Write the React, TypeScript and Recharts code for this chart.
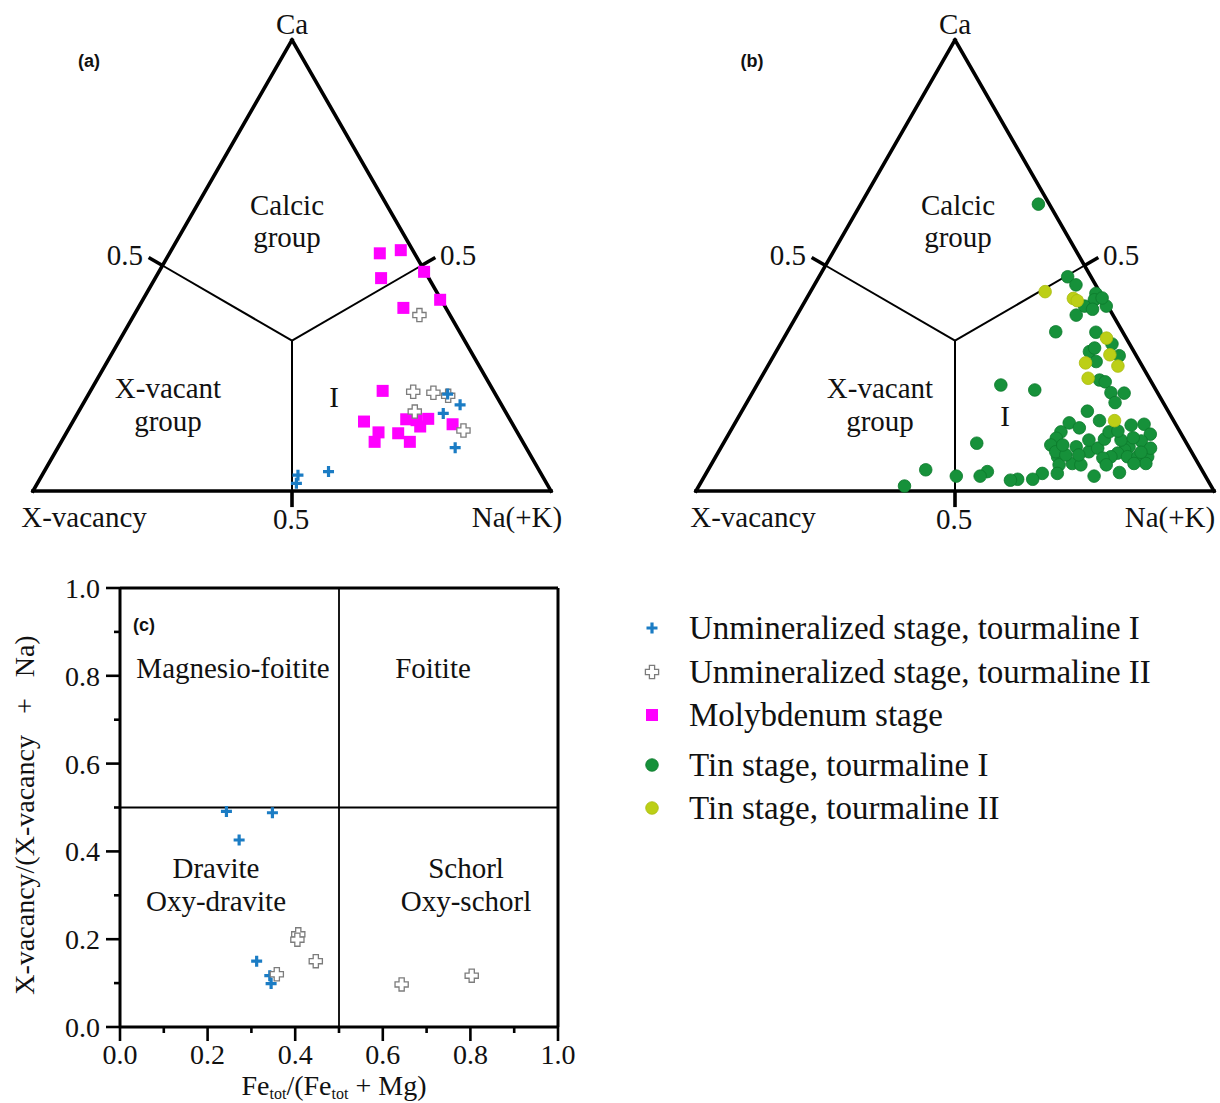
import React from "react";
import { ScatterChart, Scatter, XAxis, YAxis, ReferenceLine } from "recharts";

const SERIF = "'Liberation Serif', 'Times New Roman', Times, serif";
const SANS = "'Liberation Sans', Arial, Helvetica, sans-serif";

const BLUE = "#1b7cc4";
const GREY = "#7c7c7c";
const MAGENTA = "#ff00ff";
const GREEN = "#16913a";
const GREEN_EDGE = "#0d7a2c";
const LIME = "#bccf16";

// ternary compositions as [Ca, Na(+K)]; X-vacancy is the remainder
const unminITern = [
  [0.215, 0.693], [0.191, 0.729], [0.172, 0.706], [0.096, 0.767],
  [0.043, 0.549], [0.035, 0.494], [0.017, 0.5],
];
const unminIITern = [
  [0.39, 0.551], [0.22, 0.624], [0.218, 0.664], [0.211, 0.696],
  [0.176, 0.649], [0.134, 0.764],
];
const molyTern = [
  [0.527, 0.406], [0.534, 0.443], [0.486, 0.512], [0.472, 0.436],
  [0.424, 0.574], [0.406, 0.512], [0.222, 0.564], [0.154, 0.562],
  [0.13, 0.602], [0.109, 0.605], [0.128, 0.641], [0.109, 0.673],
  [0.159, 0.641], [0.157, 0.662], [0.16, 0.683], [0.143, 0.676],
  [0.148, 0.736],
];
const tinITern = [
  [0.636, 0.343], [0.475, 0.48], [0.457, 0.505], [0.438, 0.553], [0.424, 0.557],
  [0.41, 0.545], [0.403, 0.564], [0.41, 0.587], [0.39, 0.539], [0.353, 0.518],
  [0.352, 0.596], [0.326, 0.64], [0.309, 0.605], [0.287, 0.629], [0.3, 0.667],
  [0.246, 0.656], [0.242, 0.669], [0.218, 0.692], [0.217, 0.718], [0.196, 0.711],
  [0.235, 0.471], [0.224, 0.542], [0.177, 0.667], [0.156, 0.701], [0.151, 0.645],
  [0.14, 0.67], [0.131, 0.639], [0.117, 0.637], [0.102, 0.634], [0.098, 0.685],
  [0.087, 0.715], [0.095, 0.728], [0.115, 0.731], [0.131, 0.732], [0.146, 0.767],
  [0.148, 0.791], [0.126, 0.814], [0.111, 0.804], [0.098, 0.787], [0.091, 0.782],
  [0.084, 0.772], [0.076, 0.763], [0.073, 0.749], [0.076, 0.795], [0.076, 0.815],
  [0.076, 0.834], [0.061, 0.838], [0.061, 0.815], [0.076, 0.66], [0.058, 0.672],
  [0.061, 0.696], [0.058, 0.714], [0.039, 0.678], [0.041, 0.797], [0.033, 0.752],
  [0.039, 0.649], [0.026, 0.637], [0.026, 0.608], [0.024, 0.595], [0.043, 0.541],
  [0.033, 0.532], [0.106, 0.489], [0.011, 0.397], [0.047, 0.42], [0.033, 0.486],
  [0.087, 0.651], [0.113, 0.764], [0.118, 0.785], [0.095, 0.83], [0.086, 0.816],
  [0.08, 0.674], [0.08, 0.699], [0.113, 0.702], [0.133, 0.748], [0.102, 0.657],
  [0.058, 0.763], [0.317, 0.611], [0.428, 0.57],
];
const tinIITern = [
  [0.442, 0.453], [0.427, 0.515], [0.422, 0.525], [0.339, 0.623], [0.302, 0.648],
  [0.284, 0.61], [0.277, 0.676], [0.25, 0.632], [0.156, 0.73],
];

// Fe_tot/(Fe_tot + Mg) against X-vacancy/(X-vacancy + Na)
const unminIFe = [
  [0.243, 0.491], [0.348, 0.488], [0.272, 0.426],
  [0.312, 0.15], [0.342, 0.117], [0.345, 0.099],
];
const unminIIFe = [
  [0.407, 0.211], [0.405, 0.199], [0.447, 0.15],
  [0.358, 0.12], [0.643, 0.097], [0.803, 0.117],
];

const axisTicks = [0, 0.1, 0.2, 0.3, 0.4, 0.5, 0.6, 0.7, 0.8, 0.9, 1.0];

const legendNames = [
  "Unmineralized stage, tourmaline I",
  "Unmineralized stage, tourmaline II",
  "Molybdenum stage",
  "Tin stage, tourmaline I",
  "Tin stage, tourmaline II",
];

// Ca at the apex, X-vacancy bottom left, Na(+K) bottom right
const tern = (ca: number, na: number) => ({ x: na + ca / 2, y: ca });
const toTernXY = (rows: number[][]) => rows.map(([ca, na]) => tern(ca, na));
const toXY = (rows: number[][]) => rows.map(([x, y]) => ({ x, y }));

// marker shapes
const bluePlus = (p: any) => {
  const { cx, cy } = p;
  const s = 5.5;
  return (
    <path
      d={`M${cx - s},${cy}H${cx + s}M${cx},${cy - s}V${cy + s}`}
      stroke={BLUE}
      strokeWidth={3.2}
      fill="none"
    />
  );
};
const openPlus = (p: any) => {
  const { cx, cy } = p;
  const a = 2.6;
  const b = 6.6;
  return (
    <path
      d={`M${cx - a},${cy - b}H${cx + a}V${cy - a}H${cx + b}V${cy + a}H${cx + a}V${cy + b}H${cx - a}V${cy + a}H${cx - b}V${cy - a}H${cx - a}Z`}
      stroke={GREY}
      strokeWidth={1.3}
      fill="#fff"
    />
  );
};
const square = (p: any) => (
  <rect x={p.cx - 6} y={p.cy - 6} width={12} height={12} fill={MAGENTA} />
);
const greenDot = (p: any) => (
  <circle cx={p.cx} cy={p.cy} r={6.3} fill={GREEN} stroke={GREEN_EDGE} strokeWidth={0.8} />
);
const limeDot = (p: any) => (
  <circle cx={p.cx} cy={p.cy} r={6.3} fill={LIME} stroke="#a9bb10" strokeWidth={0.8} />
);
const legendShapes = [bluePlus, openPlus, square, greenDot, limeDot];

// triangle frame, field boundaries and the 0.5 ticks
const apexes = [tern(0, 0), tern(1, 0), tern(0, 1)];
const centre = tern(1 / 3, 1 / 3);
const mids = [tern(0.5, 0), tern(0.5, 0.5), tern(0, 0.5)];
const tickEnd = (m: { x: number; y: number }) => ({
  x: m.x + (m.x - centre.x) * 0.107,
  y: m.y + (m.y - centre.y) * 0.107,
});

const TRI_H = 545;
const TRI_M = { top: 40, left: 33, bottom: 54 };

type TernSeries = { name: string; rows: number[][]; shape: any };
type TernLabels = {
  xvacX: number;
  naX: number;
  groupX: number;
  markX: number;
  markY: number;
  calcicX: number;
};

function ternaryPanel(
  key: string,
  left: number,
  width: number,
  tag: string,
  series: TernSeries[],
  lab: TernLabels
) {
  const txt = { fontFamily: SERIF, fontSize: 29, fill: "#111" };
  return (
    <div key={key} style={{ position: "absolute", left, top: 0 }}>
      <ScatterChart
        width={width}
        height={TRI_H}
        margin={{ ...TRI_M, right: width - 33 - 518 }}
      >
        <XAxis type="number" dataKey="x" domain={[0, 1]} hide />
        <YAxis type="number" dataKey="y" domain={[0, 1]} hide />
        {apexes.map((a, i) => (
          <ReferenceLine
            key={`edge${i}`}
            segment={[a, apexes[(i + 1) % 3]]}
            stroke="#000"
            strokeWidth={3.6}
            strokeLinecap="square"
            ifOverflow="visible"
          />
        ))}
        {mids.map((m, i) => (
          <ReferenceLine
            key={`split${i}`}
            segment={[m, centre]}
            stroke="#000"
            strokeWidth={2}
            ifOverflow="visible"
          />
        ))}
        {mids.map((m, i) => (
          <ReferenceLine
            key={`tick${i}`}
            segment={[m, tickEnd(m)]}
            stroke="#000"
            strokeWidth={3.6}
            ifOverflow="visible"
          />
        ))}
        {series.map((s) => (
          <Scatter
            key={s.name}
            name={s.name}
            data={toTernXY(s.rows)}
            shape={s.shape}
            isAnimationActive={false}
          />
        ))}
        <text x={89} y={67} textAnchor="middle" fontFamily={SANS} fontWeight="bold" fontSize={18} fill="#111">
          {tag}
        </text>
        <text x={292} y={34} textAnchor="middle" {...txt}>Ca</text>
        <text x={143} y={265} textAnchor="end" {...txt}>0.5</text>
        <text x={440} y={265} textAnchor="start" {...txt}>0.5</text>
        <text x={291} y={529} textAnchor="middle" {...txt}>0.5</text>
        <text x={lab.xvacX} y={527} textAnchor="middle" {...txt}>X-vacancy</text>
        <text x={lab.naX} y={527} textAnchor="middle" {...txt}>Na(+K)</text>
        <text x={lab.calcicX} y={215} textAnchor="middle" {...txt}>Calcic</text>
        <text x={lab.calcicX} y={247} textAnchor="middle" {...txt}>group</text>
        <text x={lab.groupX} y={398} textAnchor="middle" {...txt}>X-vacant</text>
        <text x={lab.groupX} y={431} textAnchor="middle" {...txt}>group</text>
        <text x={lab.markX} y={lab.markY} textAnchor="middle" {...txt}>I</text>
      </ScatterChart>
    </div>
  );
}

const renderXTick = (p: any) => {
  const { x, y, payload } = p;
  const v = payload.value as number;
  const major = Math.round(v * 10) % 2 === 0;
  return (
    <g>
      <line x1={x} x2={x} y1={y} y2={y + (major ? 14 : 6)} stroke="#000" strokeWidth={2.6} />
      {major && (
        <text x={x} y={y + 37} textAnchor="middle" fontFamily={SERIF} fontSize={28} fill="#111">
          {v.toFixed(1)}
        </text>
      )}
    </g>
  );
};

const renderYTick = (p: any) => {
  const { x, y, payload } = p;
  const v = payload.value as number;
  const major = Math.round(v * 10) % 2 === 0;
  return (
    <g>
      <line x1={x - (major ? 14 : 6)} x2={x} y1={y} y2={y} stroke="#000" strokeWidth={2.6} />
      {major && (
        <text x={x - 20} y={y + 10} textAnchor="end" fontFamily={SERIF} fontSize={28} fill="#111">
          {v.toFixed(1)}
        </text>
      )}
    </g>
  );
};

function ClassificationPanel() {
  const txt = { fontFamily: SERIF, fontSize: 29, fill: "#111" };
  const sub = { fontSize: 16 };
  const rowY = [68, 112, 155, 205, 248];
  return (
    <div style={{ position: "absolute", left: 0, top: 560 }}>
      <ScatterChart
        width={1220}
        height={543}
        margin={{ top: 28, left: 60, right: 662, bottom: 46 }}
      >
        <XAxis
          type="number"
          dataKey="x"
          domain={[0, 1]}
          ticks={axisTicks}
          interval={0}
          height={30}
          tickSize={0}
          tickMargin={0}
          tickLine={false}
          tick={renderXTick}
          axisLine={{ stroke: "#000", strokeWidth: 3 }}
        />
        <YAxis
          type="number"
          dataKey="y"
          domain={[0, 1]}
          ticks={axisTicks}
          interval={0}
          width={60}
          tickSize={0}
          tickMargin={0}
          tickLine={false}
          tick={renderYTick}
          axisLine={{ stroke: "#000", strokeWidth: 3 }}
        />
        <ReferenceLine y={1} stroke="#000" strokeWidth={3} />
        <ReferenceLine x={1} stroke="#000" strokeWidth={3} />
        <ReferenceLine x={0.5} stroke="#000" strokeWidth={1.8} />
        <ReferenceLine y={0.5} stroke="#000" strokeWidth={1.8} />
        <Scatter name="unminI" data={toXY(unminIFe)} shape={bluePlus} isAnimationActive={false} />
        <Scatter name="unminII" data={toXY(unminIIFe)} shape={openPlus} isAnimationActive={false} />

        <text x={144} y={71} textAnchor="middle" fontFamily={SANS} fontWeight="bold" fontSize={18} fill="#111">
          (c)
        </text>
        <text x={233} y={118} textAnchor="middle" {...txt}>Magnesio-foitite</text>
        <text x={433} y={118} textAnchor="middle" {...txt}>Foitite</text>
        <text x={216} y={318} textAnchor="middle" {...txt}>Dravite</text>
        <text x={216} y={351} textAnchor="middle" {...txt}>Oxy-dravite</text>
        <text x={466} y={318} textAnchor="middle" {...txt}>Schorl</text>
        <text x={466} y={351} textAnchor="middle" {...txt}>Oxy-schorl</text>

        <text x={334} y={535} textAnchor="middle" fontFamily={SERIF} fontSize={28} fill="#111">
          Fe<tspan {...sub} dy={4}>tot</tspan>
          <tspan dy={-4}>/(Fe</tspan>
          <tspan {...sub} dy={4}>tot</tspan>
          <tspan dy={-4}>{" + Mg)"}</tspan>
        </text>
        <text
          transform="translate(34, 255) rotate(-90)"
          textAnchor="middle"
          fontFamily={SERIF}
          fontSize={28}
          fill="#111"
        >
          {"X-vacancy/(X-vacancy\u00a0\u00a0\u00a0+\u00a0\u00a0\u00a0Na)"}
        </text>

        {legendNames.map((name, i) => (
          <g key={name}>
            {legendShapes[i]({ cx: 652, cy: rowY[i] })}
            <text x={689} y={rowY[i] + 11} fontFamily={SERIF} fontSize={33} fill="#111">
              {name}
            </text>
          </g>
        ))}
      </ScatterChart>
    </div>
  );
}

export default function App() {
  const seriesA: TernSeries[] = [
    { name: "moly", rows: molyTern, shape: square },
    { name: "unminII", rows: unminIITern, shape: openPlus },
    { name: "unminI", rows: unminITern, shape: bluePlus },
  ];
  const seriesB: TernSeries[] = [
    { name: "tinI", rows: tinITern, shape: greenDot },
    { name: "tinII", rows: tinIITern, shape: limeDot },
  ];
  return (
    <div
      style={{
        position: "absolute",
        left: 0,
        top: 0,
        width: 1220,
        height: 1103,
        background: "#fff",
        overflow: "hidden",
      }}
    >
      {ternaryPanel("a", 0, 610, "(a)", seriesA, {
        xvacX: 84, naX: 517, groupX: 168, markX: 334, markY: 407, calcicX: 287,
      })}
      {ternaryPanel("b", 663, 557, "(b)", seriesB, {
        xvacX: 90, naX: 507, groupX: 217, markX: 342, markY: 426, calcicX: 295,
      })}
      <ClassificationPanel />
    </div>
  );
}
